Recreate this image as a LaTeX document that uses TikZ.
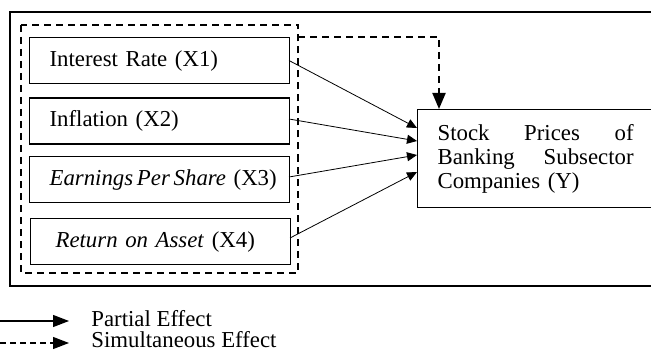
\documentclass[tikz,border=0pt]{standalone}
\usepackage{fontspec}
\setmainfont{Liberation Serif}
\usetikzlibrary{arrows.meta}
\begin{document}
\begin{tikzpicture}[x=0.5pt,y=-0.5pt,
  every node/.style={font=\fontsize{11.4}{12}\selectfont},
  xbox/.style={draw, line width=0.6pt, anchor=north west, minimum height=23pt,
    text width=120pt, inner xsep=5pt, inner ysep=0pt, align=left},
  ybox/.style={draw, line width=0.6pt, anchor=north west, minimum height=49pt,
    text width=98pt, inner xsep=10pt, inner ysep=0pt, align=left},
  outerbox/.style={draw, line width=0.75pt},
  dashbox/.style={draw, line width=1pt, dash pattern=on 3.5pt off 2.5pt},
  partial/.style={line width=0.4pt, -{Triangle[length=5pt,width=4.5pt]}},
  simul/.style={line width=1pt, dash pattern=on 3.5pt off 2.5pt, -{Triangle[length=8pt,width=6.5pt]}},
  legsolid/.style={line width=0.6pt, -{Triangle[length=8pt,width=6pt]}},
  legdash/.style={line width=0.6pt, dash pattern=on 3pt off 2pt, -{Triangle[length=8pt,width=6pt]}},
  legtext/.style={anchor=base west, inner sep=0pt}
]
\clip (0,0) rectangle (651,352);
\fill[white] (0,0) rectangle (651,352);
% outer frame
\draw[outerbox] (10,12) rectangle (660,286);
% dashed group frame
\draw[dashbox] (20.5,25) rectangle (298,272.5);
% independent variables
\node[xbox] (x1) at (29,37) {\hspace*{5pt}Interest Rate (X1)};
\node[xbox] (x2) at (29,97.5) {\hspace*{5pt}Inflation (X2)};
\node[xbox] (x3) at (29,156) {\hspace*{5pt}\textit{Earnings\,Per\,Share} (X3)};
\node[xbox] (x4) at (30,218) {\hspace*{7.5pt}\textit{Return on Asset} (X4)};
% dependent variable
\node[ybox] (y) at (417,109) {\makebox[98pt][s]{Stock\hspace{0pt plus 1fil}Prices\hspace{0pt plus 1fil}of}\\
  \makebox[98pt][s]{Banking\hspace{0pt plus 1fil}Subsector}\\Companies (Y)};
% partial arrows
\coordinate (t1) at (417,128);
\coordinate (t2) at (417,141);
\coordinate (t3) at (417,155);
\coordinate (t4) at (417,172);
\coordinate (s1) at (289,60.5);
\coordinate (s2) at (289,119);
\coordinate (s3) at (289,177);
\coordinate (s4) at (290,238);
\draw[partial] (s1) -- (t1);
\draw[partial] (s2) -- (t2);
\draw[partial] (s3) -- (t3);
\draw[partial] (s4) -- (t4);
% simultaneous arrow
\coordinate (g) at (298,37);
\coordinate (gt) at (439,109);
\draw[simul] (g) -| (gt);
% legend
\coordinate (la) at (0,321);
\coordinate (lb) at (69,321);
\coordinate (lc) at (0,343);
\coordinate (ld) at (69,343);
\draw[legsolid] (la) -- (lb);
\draw[legdash] (lc) -- (ld);
\node[legtext] (lt1) at (91,326) {Partial Effect};
\node[legtext] (lt2) at (91,347) {Simultaneous Effect};
\end{tikzpicture}
\end{document}
